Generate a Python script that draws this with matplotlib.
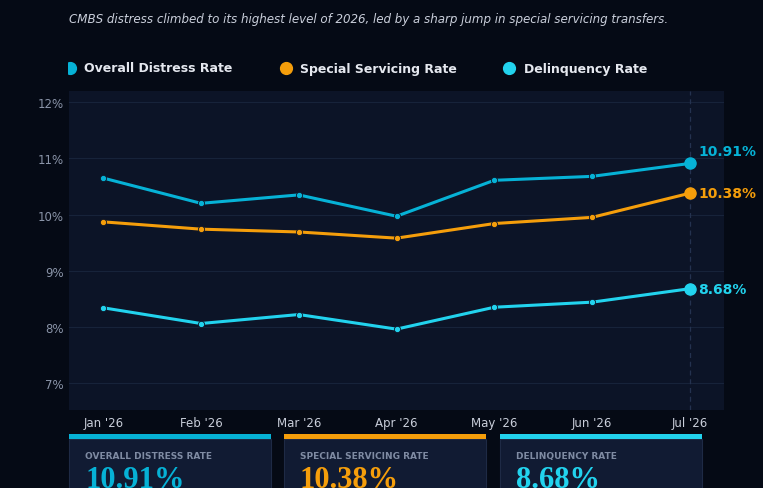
import matplotlib
matplotlib.use("Agg")
import matplotlib.pyplot as plt
from matplotlib.patches import Rectangle

months = ["Jan '26", "Feb '26", "Mar '26", "Apr '26", "May '26", "Jun '26", "Jul '26"]
overall = [10.65, 10.20, 10.35, 9.97, 10.61, 10.68, 10.91]
special = [9.87, 9.74, 9.69, 9.58, 9.84, 9.95, 10.38]
delinq = [8.34, 8.06, 8.22, 7.96, 8.35, 8.44, 8.68]
yticks = [7, 8, 9, 10, 11, 12]

series_names = ["Overall Distress Rate", "Special Servicing Rate", "Delinquency Rate"]
colors = ["#06b2d6", "#f59e0b", "#22d3ee"]
title = "CMBS distress climbed to its highest level of 2026, led by a sharp jump in special servicing transfers."

W, H = 763, 489
fig = plt.figure(figsize=(W / 100, H / 100), dpi=100)
fig.patch.set_facecolor("#050a15")

def fx(px):
    return px / W

def fy(py):
    return 1 - py / H

# main axes
ax = fig.add_axes([fx(69), fy(411), fx(724) - fx(69), fy(92) - fy(411)])
ax.set_facecolor("#0c1427")
for s in ax.spines.values():
    s.set_visible(False)

x = list(range(len(months)))
for vals, c in zip([overall, special, delinq], colors):
    ax.plot(x, vals, color=c, lw=2.2, marker="o", ms=4.5, mfc=c, mec="#0c1427", mew=0.6, zorder=3)
    ax.plot([x[-1]], [vals[-1]], "o", color=c, ms=8, zorder=4)

ax.axvline(x[-1], color="#24324f", lw=0.9, ls=(0, (4, 3)), zorder=1)

offs = [0.22, 0.0, 0.0]
for vals, c, o in zip([overall, special, delinq], colors, offs):
    ax.text(x[-1] + 0.085, vals[-1] + o, f"{vals[-1]:.2f}%", color=c, fontsize=10,
            fontweight="bold", va="center", ha="left", zorder=5)

ax.set_xlim(-0.35, 6.35)
ax.set_ylim(6.52, 12.2)
ax.set_yticks(yticks)
ax.set_yticklabels([f"{t}%" for t in yticks])
ax.set_xticks(x)
ax.set_xticklabels(months)
ax.grid(axis="y", color="#17233a", lw=0.8)
ax.set_axisbelow(True)
ax.tick_params(axis="y", length=0, labelsize=8.5, colors="#8a94a8", pad=4)
ax.tick_params(axis="x", length=0, labelsize=8.5, colors="#c9ceda", pad=4)

# title
fig.text(fx(69), fy(19), title, color="#c9ceda", fontsize=8.6, style="italic", va="center", ha="left")

# legend (first dot is clipped at the left edge like the reference)
leg_x = [69.5, 285.5, 509]
txt_x = [83.5, 299.5, 524]
lax = fig.add_axes([fx(68), fy(80), fx(700) - fx(68), fy(58) - fy(80)])
lax.set_xlim(68, 700)
lax.set_ylim(80, 58)
lax.axis("off")
for lx, tx, c, name in zip(leg_x, txt_x, colors, series_names):
    lax.plot([lx], [69], "o", color=c, ms=8.5, clip_on=True)
    fig.text(fx(tx), fy(69), name, color="#e5e8ef", fontsize=9, fontweight="bold",
             va="center", ha="left")

# cards
card_x = [69, 284, 500]
card_w = 202
card_vals = [overall[-1], special[-1], delinq[-1]]
for cx, c, name, v in zip(card_x, colors, series_names, card_vals):
    fig.patches.append(Rectangle((fx(cx), fy(495)), fx(card_w), fy(440) - fy(495),
                                 transform=fig.transFigure, facecolor="#111b33",
                                 edgecolor="#1e2a45", lw=0.8, zorder=1))
    fig.patches.append(Rectangle((fx(cx), fy(440)), fx(card_w), fy(435) - fy(440),
                                 transform=fig.transFigure, facecolor=c, edgecolor="none", zorder=2))
    fig.text(fx(cx + 16), fy(457), name.upper(), color="#7f8ba3", fontsize=6.5,
             fontweight="bold", va="center", ha="left", zorder=3)
    fig.text(fx(cx + 16), fy(481), f"{v:.2f}%", color=c, fontsize=22,
             family="Liberation Serif", fontweight="bold",
             va="center", ha="left", zorder=3)

fig.savefig("out.png", dpi=100, facecolor=fig.get_facecolor())
